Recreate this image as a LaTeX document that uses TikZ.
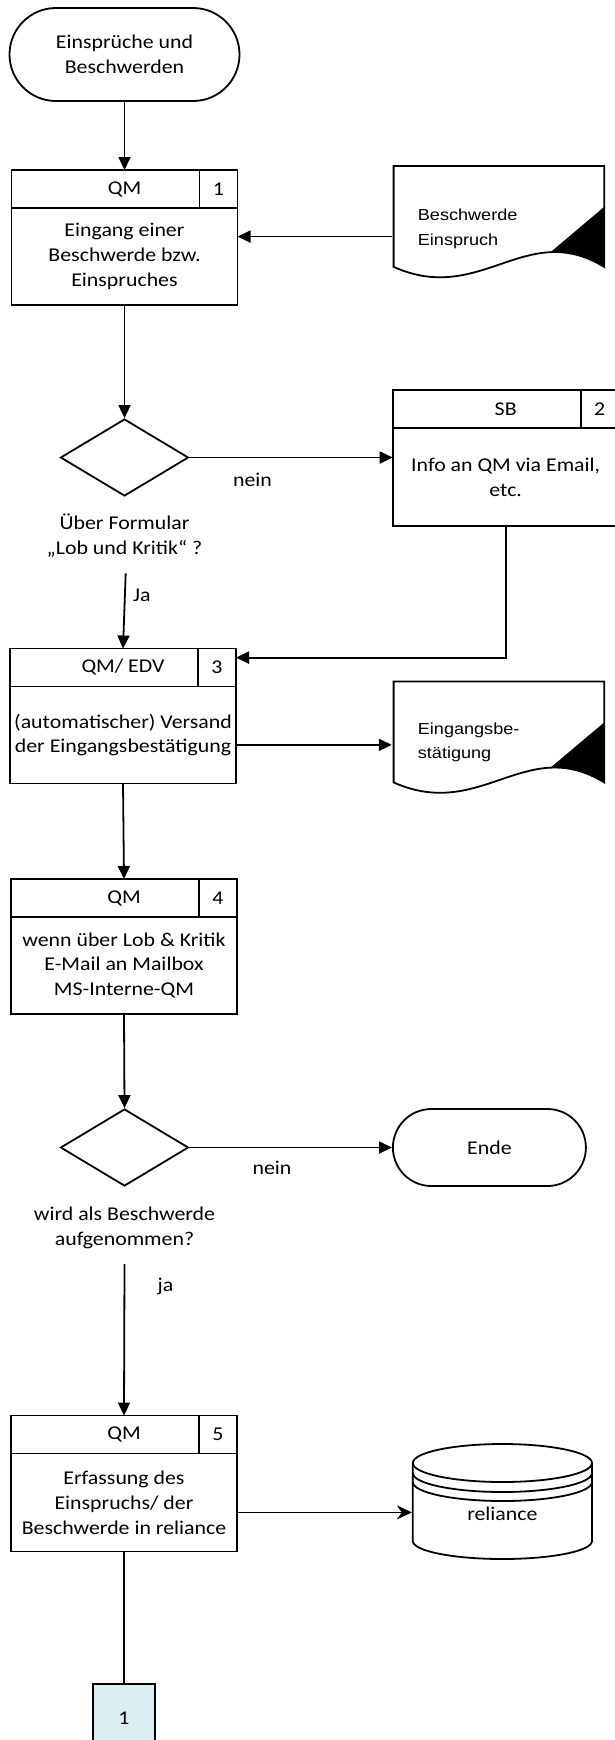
\documentclass[tikz,border=0pt]{standalone}
\usepackage{fontspec}
\setmainfont{Carlito}[FakeStretch=1.12]
\newfontfamily\arialfont{Liberation Sans}[FakeStretch=1.13]
\usepackage{tikz}
\usetikzlibrary{shapes}
\usetikzlibrary{arrows.meta}
\definecolor{connblue}{RGB}{219,238,243}
\tikzset{
  term node/.style={rounded rectangle,draw,align=center,inner sep=0pt},
  head node/.style={rectangle,draw,minimum width=226pt,minimum height=38pt,inner sep=0pt,outer sep=0pt},
  num node/.style={rectangle,draw,minimum width=38pt,minimum height=38pt,inner sep=0pt,outer sep=0pt,anchor=north east},
  body node/.style={rectangle,draw,minimum width=226pt,minimum height=97pt,inner sep=0pt,outer sep=0pt,anchor=north,align=center},
  dec node/.style={diamond,draw,minimum width=128pt,minimum height=77pt,inner sep=0pt},
  dec text/.style={align=center,inner sep=0pt},
  doc node/.style={rectangle,minimum width=210.6pt,minimum height=101pt,inner sep=0pt},
  doc text/.style={anchor=west,align=left,inner sep=0pt,font=\arialfont\fontsize{16}{24.5}\selectfont},
  db node/.style={rectangle,minimum width=179.2pt,minimum height=86pt,inner sep=0pt},
  conn node/.style={rectangle,draw,fill=connblue,minimum width=61.4pt,minimum height=70pt,inner sep=0pt,anchor=north},
  edge text/.style={inner sep=0pt}
}

\begin{document}
\begin{tikzpicture}[x=1pt,y=-1pt,line width=1.8pt,
        font=\fontsize{19.5}{24.8}\selectfont,
        >={Triangle[length=13pt,width=12pt]}]
  \useasboundingbox (0,0) rectangle (614,1740);

  \node[term node,minimum width=230pt,minimum height=93pt] (start) at (124.5,54.5) {Einsprüche und\\Beschwerden};

  \node[head node] (b1head) at (124.5,189) {QM};
  \node[num node] (b1num) at (b1head.north east) {1};
  \node[body node] (b1body) at (b1head.south) {Eingang einer\\Beschwerde bzw.\\Einspruches};

  \node[doc node] (doc1) at (498,215.5) {};
  \node[doc text] (doc1text) at (417,229) {Beschwerde\\Einspruch};
  \begin{scope}[shift={(doc1.south east)}]
    \draw (0,-101) -- (-210.6,-101) -- (-210.6,0) .. controls (-123.3,39) and (-78.3,-48) .. (0,0) -- cycle;
    \fill (0,-60) -- (0,0) .. controls (-19.6,-12) and (-37.1,-15.6) .. (-53.6,-14.8) -- cycle;
  \end{scope}

  \node[dec node] (dec1) at (124.5,457.5) {};
  \node[dec text] (dec1text) at (124.5,536) {Über Formular\\„Lob und Kritik“ ?};
  \node[edge text] (nein1) at (252.5,480) {nein};

  \node[head node] (sbhead) at (505.7,409) {SB};
  \node[num node] (sbnum) at (sbhead.north east) {2};
  \node[body node,minimum height=98pt] (sbbody) at (sbhead.south) {Info an QM via Email,\\etc.};

  \coordinate (ja1) at (125.7,573.3);
  \node[edge text,anchor=west] (ja1text) at (132.3,595) {Ja};

  \node[head node] (b3head) at (123,667.5) {QM/ EDV};
  \node[num node] (b3num) at (b3head.north east) {3};
  \node[body node] (b3body) at (b3head.south) {(automatischer) Versand\\der Eingangsbestätigung};

  \node[doc node] (doc2) at (498,731) {};
  \node[doc text] (doc2text) at (417,742.5) {Eingangsbe-\\stätigung};
  \begin{scope}[shift={(doc2.south east)}]
    \draw (0,-101) -- (-210.6,-101) -- (-210.6,0) .. controls (-123.3,39) and (-78.3,-48) .. (0,0) -- cycle;
    \fill (0,-60) -- (0,0) .. controls (-19.6,-12) and (-37.1,-15.6) .. (-53.6,-14.8) -- cycle;
  \end{scope}

  \node[head node] (b4head) at (124,898) {QM};
  \node[num node] (b4num) at (b4head.north east) {4};
  \node[body node] (b4body) at (b4head.south) {wenn über Lob \& Kritik\\E-Mail an Mailbox\\MS-Interne-QM};

  \node[dec node] (dec2) at (124.5,1147.5) {};
  \node[dec text] (dec2text) at (124.5,1227.5) {wird als Beschwerde\\aufgenommen?};
  \node[edge text] (nein2) at (272,1168) {nein};
  \node[term node,minimum width=193pt,minimum height=77pt] (ende) at (489.4,1147.5) {Ende};

  \coordinate (ja2) at (124.5,1264);
  \node[edge text,anchor=west] (ja2text) at (156.7,1286) {ja};

  \node[head node] (b5head) at (124,1434.5) {QM};
  \node[num node] (b5num) at (b5head.north east) {5};
  \node[body node,minimum height=98pt] (b5body) at (b5head.south) {Erfassung des\\Einspruchs/ der\\Beschwerde in reliance};

  \node[db node] (rel) at (502.4,1514) {reliance};
  \draw (412.8,1463) -- (412.8,1541) arc (180:0:89.6 and 18) -- (592,1463);
  \draw (502.4,1463) ellipse (89.6 and 19);
  \draw (412.8,1473) arc (180:0:89.6 and 19);
  \draw (412.8,1482) arc (180:0:89.6 and 19);

  \node[conn node] (conn) at (124,1682.7) {1};

  \draw[->] (start.south) -- (b1head.north);
  \draw[->] (b1body.10 -| doc1.west) -- (b1body.10);
  \draw[->] (b1body.south) -- (dec1.north);
  \draw[->] (dec1.east) -- (dec1.east -| sbbody.west);
  \draw[->] (ja1) -- (b3head.north);
  \draw[->] (sbbody.south) |- (b3head.5);
  \draw[->] (b3body.-5) -- (b3body.-5 -| doc2.west);
  \draw[->] (b3body.south) -- (b4head.north);
  \draw[->] (b4body.south) -- (dec2.north);
  \draw[->] (dec2.east) -- (ende.west);
  \draw[->] (ja2) -- (b5head.north);
  \draw[-{Stealth[length=15pt,width=14pt]}] (b5body.-5) -- (b5body.-5 -| rel.west);
  \draw (b5body.south) -- (conn.north);
\end{tikzpicture}
\end{document}
